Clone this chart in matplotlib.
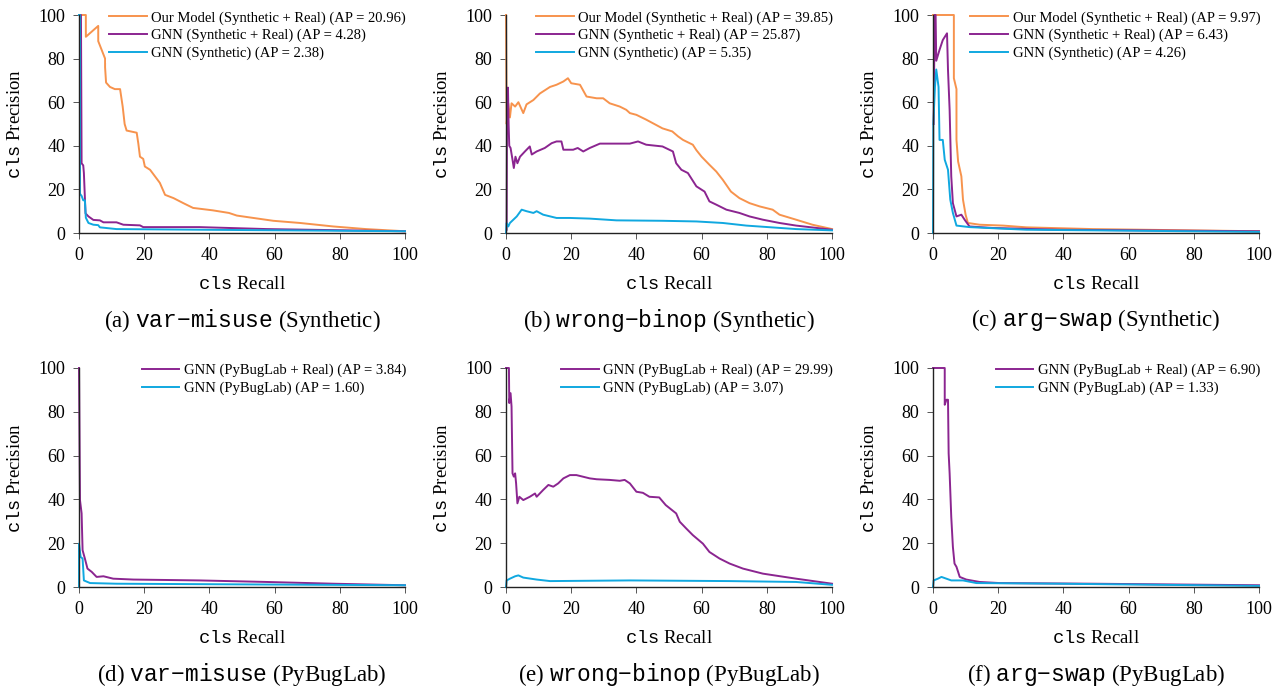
import matplotlib
matplotlib.use("Agg")
import matplotlib.pyplot as plt

plt.rcParams['font.family'] = 'Liberation Serif'
plt.rcParams['mathtext.fontset'] = 'custom'
plt.rcParams['mathtext.rm'] = 'Liberation Serif'
plt.rcParams['mathtext.tt'] = 'Liberation Mono'

ORANGE = '#F7934D'
PURPLE = '#8B2590'
BLUE = '#10A8E0'

# ---- (a) var-misuse, synthetic ----
a_our_r = [0, 2.1, 2.1, 5.9, 5.9, 8.0, 8.0, 8.3, 9.5, 11.0, 12.6, 13.4, 14.0, 14.6, 17.7, 18.2, 18.7, 19.7,
           20.2, 21.8, 22.8, 24.8, 26.4, 29.0, 32.0, 35.0, 41.0, 46.0, 48.4, 53.5, 59.6, 67.8, 78.0, 88.0, 100]
a_our_p = [100, 100, 90, 95, 88, 80, 76, 69, 67, 66, 66, 58, 50, 47, 46, 41, 35, 34,
           30.5, 29, 27, 23, 17.5, 16, 13.7, 11.5, 10.4, 9.2, 8.0, 6.9, 5.6, 4.6, 3.0, 1.8, 0.8]
a_gsr_r = [0.3, 0.6, 0.8, 1.3, 1.5, 2.0, 2.9, 4.4, 6.4, 7.5, 11.5, 13.6, 18.7, 19.7, 37.0, 57.6, 100]
a_gsr_p = [100, 100, 32, 31, 27.5, 9, 7.6, 6.0, 5.8, 4.9, 4.9, 3.8, 3.5, 2.7, 2.7, 1.8, 0.8]
a_gs_r = [0, 0.3, 0.3, 0.3, 0.8, 1.3, 1.8, 2.1, 2.9, 4.4, 5.9, 6.4, 11.5, 37.0, 100]
a_gs_p = [100, 100, 50, 18, 17, 15, 15, 7, 4.6, 3.8, 3.6, 2.6, 1.8, 1.5, 0.8]

# ---- (b) wrong-binop, synthetic ----
b_our_r = [0, 0.2, 0.7, 1.2, 1.7, 2.8, 3.8, 5.3, 6.3, 8.4, 10.4, 13.5, 15.5, 17.6, 19.0, 20.0, 22.7, 24.7,
           27.8, 29.8, 31.8, 34.9, 36.9, 38.0, 40.0, 43.0, 46.0, 48.0, 51.0, 52.8, 54.3, 57.3, 58.4, 60.0,
           62.4, 64.5, 66.5, 69.0, 71.6, 74.7, 77.8, 81.8, 83.9, 89.0, 94.0, 100]
b_our_p = [100, 50, 59.5, 53, 59.5, 58, 60, 55, 59, 61, 64, 67, 68, 69.5, 71, 68.7, 68, 62.6,
           61.8, 61.8, 59.5, 58, 56.5, 55, 54.2, 52, 49.6, 48, 46.6, 44.3, 42.7, 40.5, 38, 35,
           31.3, 28.2, 24.4, 19, 16, 13.7, 12.2, 10.7, 8.4, 6.1, 3.8, 1.8]
b_gsr_r = [0.2, 0.3, 0.6, 0.8, 1.0, 1.4, 2.0, 2.4, 2.9, 3.5, 4.3, 5.8, 7.3, 7.9, 9.4, 11.9, 14.0, 15.5,
           17.0, 17.6, 20.6, 22.0, 23.7, 25.7, 28.8, 32.9, 38.0, 40.5, 43.0, 48.0, 51.2, 52.2, 53.8, 55.8,
           58.4, 60.9, 62.4, 64.5, 67.6, 71.6, 74.7, 78.8, 83.9, 89.0, 100]
b_gsr_p = [1.5, 50, 66.7, 50, 40, 39, 33.6, 29.8, 35, 32, 35, 37.4, 39.7, 36, 37.4, 39, 41.2, 42,
           42, 38.2, 38.2, 39, 37.4, 39, 41, 41, 41, 42, 40.5, 39.7, 37.4, 32, 29, 27.5,
           21.4, 19, 14.5, 13, 10.7, 9.2, 7.6, 6.1, 4.6, 3.4, 1.5]
b_gs_r = [0, 0.2, 0.7, 1.2, 3.3, 4.8, 6.3, 8.4, 9.4, 11.4, 15.5, 19.6, 25.7, 33.9, 48.0, 58.4, 66.5, 73.7, 89.0, 100]
b_gs_p = [0, 4.6, 3.0, 4.6, 7.6, 10.7, 10.0, 9.2, 10.0, 8.4, 6.9, 6.9, 6.6, 5.8, 5.6, 5.3, 4.6, 3.4, 1.8, 1.2]

# ---- (c) arg-swap, synthetic ----
c_our_r = [0, 6.4, 6.4, 7.2, 7.2, 7.7, 8.7, 9.2, 10.0, 10.7, 14.3, 21.5, 28.6, 49.0, 79.8, 100]
c_our_p = [100, 100, 71, 66, 42.7, 32.8, 26, 15.3, 8.4, 4.6, 3.8, 3.4, 2.6, 1.8, 1.2, 0.8]
c_gsr_r = [0.2, 0.5, 0.8, 1.0, 2.0, 3.0, 4.3, 4.6, 5.1, 5.6, 6.1, 7.2, 8.7, 9.7, 11.2, 18.4, 38.9, 100]
c_gsr_p = [50, 100, 100, 79, 84, 88.5, 91.6, 74.8, 56.5, 26, 13.7, 7.6, 8.4, 6.1, 3.0, 2.3, 1.5, 0.8]
c_gs_r = [0, 0.1, 0.6, 1.0, 1.7, 2.0, 3.0, 3.6, 4.6, 5.3, 6.1, 7.2, 11.2, 28.6, 100]
c_gs_p = [0, 50, 67, 75, 67, 42.7, 42.7, 33.6, 29, 15.3, 9.2, 3.4, 2.7, 1.5, 0.5]

# ---- (d) var-misuse, PyBugLab ----
d_gpr_r = [0, 0.3, 0.8, 1.1, 1.8, 2.6, 3.9, 5.4, 7.5, 10.5, 16.7, 37.0, 57.6, 78.0, 100]
d_gpr_p = [100, 39.7, 33.6, 16.8, 13, 8.4, 6.9, 4.6, 4.9, 3.8, 3.4, 3.0, 2.3, 1.5, 0.8]
d_gp_r = [0, 0, 0.5, 1.1, 1.5, 3.4, 11.5, 100]
d_gp_p = [0, 19.8, 13.7, 13, 3.0, 1.8, 1.5, 0.8]

# ---- (e) wrong-binop, PyBugLab ----
e_gpr_r = [0, 0.9, 1.0, 1.4, 1.7, 2.0, 2.4, 2.8, 3.1, 3.5, 4.1, 5.3, 7.3, 8.9, 9.4, 11.4, 13.0, 14.5, 16.0,
           17.6, 19.6, 21.6, 25.7, 27.8, 31.8, 34.9, 36.4, 38.0, 40.0, 42.0, 44.0, 47.0, 49.0, 52.2, 53.3,
           55.3, 57.3, 60.4, 62.4, 65.5, 68.6, 72.7, 78.8, 89.0, 100]
e_gpr_p = [100, 100, 84, 88.5, 82.4, 51.9, 50.4, 51.9, 47.3, 38.2, 41.2, 39.7, 41.2, 42.7, 41.2, 44.3, 46.6, 45.8, 47.3,
           49.6, 51.1, 51.1, 49.6, 49.2, 48.9, 48.5, 48.9, 47.3, 43.5, 43.0, 41.2, 40.9, 37.4, 33.6, 29.8,
           26.7, 23.7, 19.8, 16.0, 13.0, 10.7, 8.4, 6.1, 3.8, 1.5]
e_gp_r = [0, 0.2, 1.2, 2.8, 3.8, 5.3, 9.4, 13.5, 38.0, 68.6, 89.0, 100]
e_gp_p = [0, 3.0, 3.8, 4.9, 5.3, 4.3, 3.4, 2.7, 3.0, 2.7, 2.3, 1.0]

# ---- (f) arg-swap, PyBugLab ----
f_gpr_r = [0, 3.6, 3.6, 4.1, 4.6, 4.8, 5.1, 5.6, 6.1, 6.6, 7.2, 8.2, 10.2, 14.3, 20.4, 49.0, 100]
f_gpr_p = [100, 100, 83.2, 85.5, 85.5, 61, 51.9, 32, 18.3, 10.7, 9.2, 4.6, 3.4, 2.3, 1.8, 1.5, 0.8]
f_gp_r = [0, 0.2, 1.5, 2.6, 4.1, 5.6, 9.2, 13.3, 38.9, 100]
f_gp_p = [0, 3.0, 3.8, 4.6, 3.8, 3.0, 3.0, 1.8, 1.5, 0.5]

captions = ['(a) $\\mathtt{var{-}misuse}$ (Synthetic)',
            '(b) $\\mathtt{wrong{-}binop}$ (Synthetic)',
            '(c) $\\mathtt{arg{-}swap}$ (Synthetic)',
            '(d) $\\mathtt{var{-}misuse}$ (PyBugLab)',
            '(e) $\\mathtt{wrong{-}binop}$ (PyBugLab)',
            '(f) $\\mathtt{arg{-}swap}$ (PyBugLab)']

top_names = ['Our Model (Synthetic + Real)', 'GNN (Synthetic + Real)', 'GNN (Synthetic)']
bot_names = ['GNN (PyBugLab + Real)', 'GNN (PyBugLab)']
top_ap = [[20.96, 4.28, 2.38], [39.85, 25.87, 5.35], [9.97, 6.43, 4.26]]
bot_ap = [[3.84, 1.60], [29.99, 3.07], [6.90, 1.33]]

top_curves = [
    [(a_our_r, a_our_p), (a_gsr_r, a_gsr_p), (a_gs_r, a_gs_p)],
    [(b_our_r, b_our_p), (b_gsr_r, b_gsr_p), (b_gs_r, b_gs_p)],
    [(c_our_r, c_our_p), (c_gsr_r, c_gsr_p), (c_gs_r, c_gs_p)],
]
bot_curves = [
    [(d_gpr_r, d_gpr_p), (d_gp_r, d_gp_p)],
    [(e_gpr_r, e_gpr_p), (e_gp_r, e_gp_p)],
    [(f_gpr_r, f_gpr_p), (f_gp_r, f_gp_p)],
]

W, H = 1287, 690
fig = plt.figure(figsize=(W / 100, H / 100), dpi=100)

col_x = [79, 506, 933]
ax_w = 326
row_y = [(15, 233), (368, 587)]


def setup(ax, cap):
    ax.set_xlim(0, 100)
    ax.set_ylim(0, 100)
    ax.set_xticks([0, 20, 40, 60, 80, 100])
    ax.set_yticks([0, 20, 40, 60, 80, 100])
    for s in ['top', 'right']:
        ax.spines[s].set_visible(False)
    for s in ['left', 'bottom']:
        ax.spines[s].set_color('#222222')
        ax.spines[s].set_linewidth(1.0)
    ax.tick_params(direction='out', length=4, width=0.7, color='#555555',
                   labelsize=13, pad=6)
    ax.set_xlabel('$\\mathtt{cls}$ Recall', fontsize=13.5, labelpad=9)
    ax.set_ylabel('$\\mathtt{cls}$ Precision', fontsize=13.5, labelpad=10)
    ax.text(0.5, -0.40, cap, transform=ax.transAxes, ha='center', va='center', fontsize=16.5)


for row in range(2):
    top, bot = row_y[row]
    for col in range(3):
        ax = fig.add_axes([col_x[col] / W, 1 - bot / H, ax_w / W, (bot - top) / H])
        if row == 0:
            curves = top_curves[col]
            names = top_names
            aps = top_ap[col]
            colors = [ORANGE, PURPLE, BLUE]
        else:
            curves = bot_curves[col]
            names = bot_names
            aps = bot_ap[col]
            colors = [PURPLE, BLUE]
        for (r, p), name, ap, c in zip(curves, names, aps, colors):
            ax.plot(r, p, color=c, lw=1.4, label='%s (AP = %.2f)' % (name, ap), clip_on=False)
        leg = ax.legend(loc='upper right', bbox_to_anchor=(1.035, 1.065), fontsize=10.5,
                        frameon=True, fancybox=False, handlelength=2.6, handletextpad=0.3,
                        labelspacing=0.3, borderpad=0.2)
        leg.get_frame().set_facecolor('white')
        leg.get_frame().set_edgecolor('none')
        leg.get_frame().set_alpha(1.0)
        setup(ax, captions[row * 3 + col])

fig.savefig('out.png', dpi=100)
